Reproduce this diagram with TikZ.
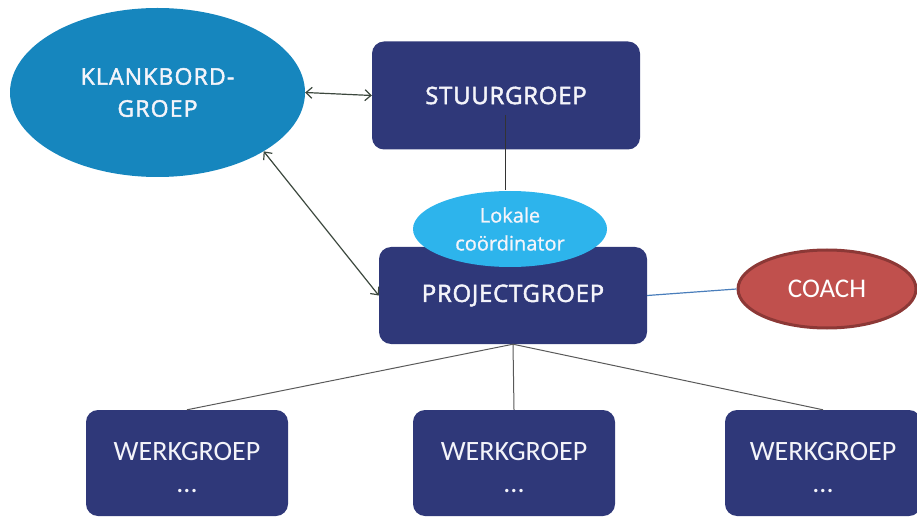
\documentclass[tikz,border=0pt]{standalone}
\usepackage{fontspec}
\setmainfont{Open Sans}
\newfontfamily\carlitofont{Carlito}
\newfontfamily\segoe{Open Sans}[FakeBold=2,LetterSpace=3]
\newfontfamily\segoewide{Open Sans}[FakeBold=2,LetterSpace=5]
\newfontfamily\segoeplain{Open Sans}[FakeBold=1]
\usetikzlibrary{shapes.geometric,arrows.meta}
\definecolor{navy}{RGB}{47,56,121}
\definecolor{klank}{RGB}{22,134,190}
\definecolor{lokale}{RGB}{45,180,236}
\definecolor{coachfill}{RGB}{192,80,77}
\definecolor{coachline}{RGB}{140,56,54}
\definecolor{arrowcol}{RGB}{60,72,62}
\definecolor{linkblue}{RGB}{74,126,187}
\definecolor{offwhite}{RGB}{244,244,250}
\tikzset{
  navybox/.style={draw=none,fill=navy,rounded corners=12pt,inner sep=0pt,text=offwhite,align=center},
  werkbox/.style={navybox,minimum height=106pt,font=\carlitofont\fontsize{28}{32}\selectfont},
  dblarrow/.style={draw=arrowcol,line width=1.2pt,{Straight Barb[length=6pt,width=11pt]}-{Straight Barb[length=6pt,width=11pt]}},
  treeline/.style={draw=black!65,line width=1pt},
}
\newcommand{\werktext}{\rule{0pt}{27pt}WERKGROEP\\...}
\begin{document}
\begin{tikzpicture}[x=1pt,y=-1pt]
\useasboundingbox (0,0) rectangle (917,518);
% nodes
\node[ellipse,fill=klank,minimum width=295pt,minimum height=169pt,inner sep=0pt,text=offwhite,align=center,font=\segoewide\fontsize{23}{32}\selectfont] (klank) at (157.5,92.5) {KLANKBORD-\\GROEP};
\node[navybox,minimum width=268pt,minimum height=108pt,font=\segoe\fontsize{24}{28}\selectfont] (stuur) at (506,95.5) {STUURGROEP};
\node[navybox,minimum width=268pt,minimum height=97pt,font=\segoe\fontsize{24}{28}\selectfont] (proj) at (513,295.5) {PROJECTGROEP};
\coordinate (stuurmid) at (505,115);
\draw[black!80,line width=1pt] (stuurmid) -- (505,190);
\node[ellipse,fill=lokale,minimum width=194pt,minimum height=76pt,inner sep=0pt,text=offwhite,align=center,font=\segoeplain\fontsize{20}{28}\selectfont] (lok) at (510,229) {Lokale\\coördinator};
\node[ellipse,draw=coachline,line width=3pt,fill=coachfill,minimum width=178pt,minimum height=78pt,inner sep=0pt,text=white,font=\carlitofont\fontsize{27}{30}\selectfont] (coach) at (827,289) {COACH};
\node[werkbox,minimum width=202pt] (w1) at (187,463) {\werktext};
\node[werkbox,minimum width=202pt] (w2) at (514,463) {\werktext};
\node[werkbox,minimum width=196pt] (w3) at (823,463) {\werktext};
% connectors
\draw[dblarrow] (klank.east) -- (stuur.west);
\draw[dblarrow] (klank.-29) -- (proj.west);
\draw[linkblue,line width=1.2pt] (proj.east) -- (coach.west);
\draw[treeline] (proj.south) -- (w1.north);
\draw[treeline] (proj.south) -- (w2.north);
\draw[treeline] (proj.south) -- (w3.north);
\end{tikzpicture}
\end{document}
